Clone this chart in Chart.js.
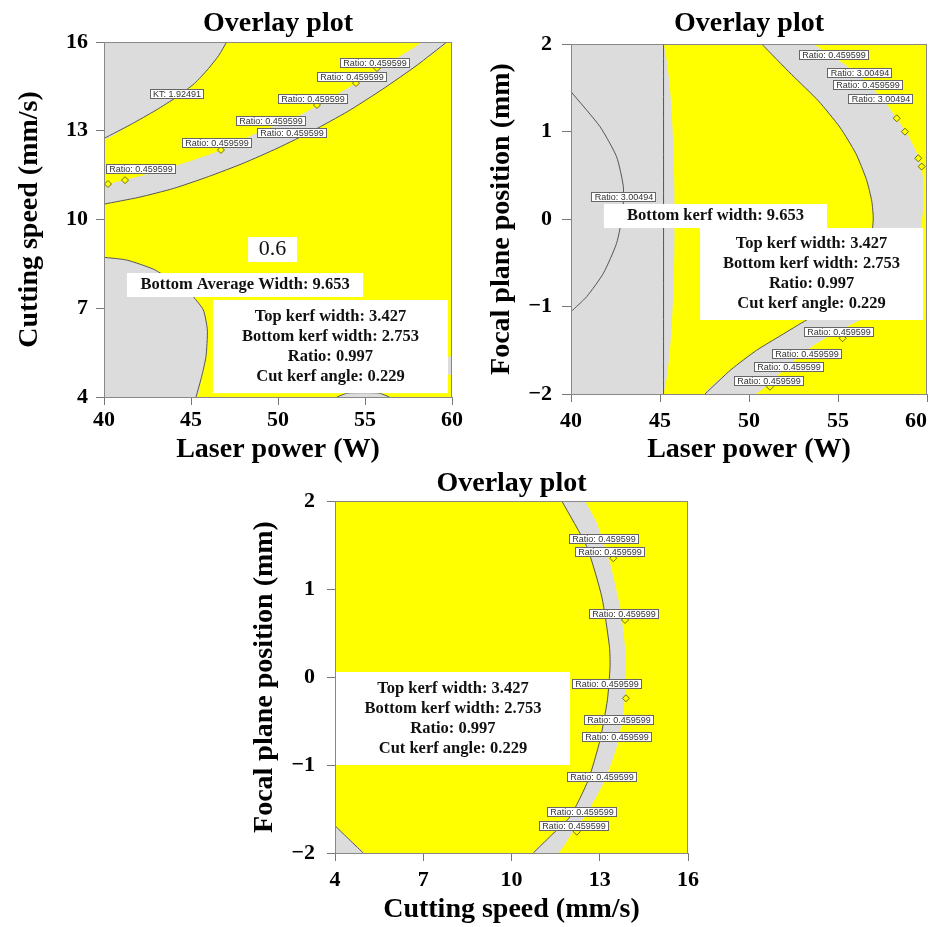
<!DOCTYPE html>
<html>
<head>
<meta charset="utf-8">
<script src="https://cdn.jsdelivr.net/npm/chart.js@4.4.1/dist/chart.umd.min.js"></script>
<style>
  body { margin: 0; background: #fff; width: 929px; height: 927px; position: relative; overflow: hidden; }
  canvas { position: absolute; }
</style>
</head>
<body>
<canvas id="c1" width="465" height="470" style="left:0;top:0"></canvas>
<canvas id="c2" width="464" height="470" style="left:465px;top:0"></canvas>
<canvas id="c3" width="460" height="467" style="left:240px;top:460px"></canvas>
<script>
// ticks
const powerTicks = [40, 45, 50, 55, 60];
const speedTicks = [4, 7, 10, 13, 16];
const focalTicks = [-2, -1, 0, 1, 2];

const summaryLines = ['Top kerf width: 3.427', 'Bottom kerf width: 2.753', 'Ratio: 0.997', 'Cut kerf angle: 0.229'];

// Panel 1: laser power (x) vs cutting speed (y)
const p1KtEdge = [[40, 12.74], [41.5, 13.2], [43, 13.7], [44.2, 14.15], [45.2, 14.6], [46.0, 15.1], [46.6, 15.55], [47.05, 16]];
const p1BandLow = [[40, 10.52], [42, 10.75], [44, 11.05], [46, 11.45], [48, 11.9], [50, 12.42], [52, 13.0], [54, 13.65], [56, 14.4], [58, 15.22], [59.7, 16]];
const p1BandHigh = [[40, 11.17], [42.26, 11.5], [44.56, 11.9], [46.48, 12.29], [48.5, 12.85], [51.26, 13.53], [54.14, 14.49], [56.63, 15.39], [57.59, 15.73], [58.35, 16]];
const p1LowEdge = [[40, 8.72], [41.3, 8.63], [42.84, 8.32], [43.9, 7.95], [44.6, 7.68], [45.13, 7.39], [45.71, 6.94], [45.94, 6.26], [45.86, 5.36], [45.61, 4.69], [45.29, 4.0]];
const p1BottomSliver = [[53.4, 4], [54.0, 4.13], [55.8, 4.13], [56.4, 4]];
const p1RightSliver = [[59.7, 5.32], [60, 5.4], [60, 4.75], [59.7, 4.78]];
const p1Marks = [[40.23, 11.2], [41.21, 11.33], [46.72, 12.35], [52.24, 13.87], [54.48, 14.61], [55.69, 15.12]];
const p1Tags = [
  [55.6, 15.29, 'Ratio: 0.459599'], [54.28, 14.83, 'Ratio: 0.459599'], [44.17, 14.24, 'KT: 1.92491'],
  [52.01, 14.07, 'Ratio: 0.459599'], [49.57, 13.33, 'Ratio: 0.459599'], [50.8, 12.91, 'Ratio: 0.459599'],
  [46.47, 12.59, 'Ratio: 0.459599'], [42.13, 11.71, 'Ratio: 0.459599'],
];

// Panel 2: laser power (x) vs focal plane position (y)
const p2LeftEdge = [[45.2, 2], [45.2, -2]];
const p2Arc = [[40, 1.455], [41.63, 1.055], [42.56, 0.712], [42.94, 0.369], [42.9, 0.065], [42.56, -0.278], [41.82, -0.62], [40.88, -0.888], [40, -1.06]];
const p2BandInner = [[50.71, 2], [52.4, 1.65], [53.9, 1.35], [55.1, 1.05], [56.0, 0.75], [56.6, 0.45], [56.9, 0.2], [56.98, 0.0], [56.85, -0.25], [56.4, -0.55], [55.6, -0.82], [54.5, -1.02], [53.24, -1.154], [51.8, -1.33], [50.43, -1.5], [49.0, -1.72], [47.53, -2]];
const p2BandOuter = [[50.34, -2], [51.8, -1.75], [53.24, -1.5], [54.8, -1.3], [56.24, -1.154], [57.6, -0.95], [58.8, -0.6], [59.5, -0.25], [59.76, 0.065], [59.8, 0.41], [59.6, 0.674], [58.86, 0.98], [57.55, 1.36], [56.5, 1.58], [55.3, 1.78], [53.6, 2]];
const p2Marks = [[58.3, 1.151], [58.76, 0.998], [59.51, 0.694], [59.7, 0.6], [55.26, -1.363], [51.18, -1.917]];
const p2Tags = [
  [54.75, 1.869, 'Ratio: 0.459599'], [56.24, 1.669, 'Ratio: 3.00494'], [56.71, 1.526, 'Ratio: 0.459599'],
  [57.42, 1.371, 'Ratio: 3.00494'], [55.06, -1.291, 'Ratio: 0.459599'], [53.26, -1.543, 'Ratio: 0.459599'],
  [52.25, -1.691, 'Ratio: 0.459599'], [51.12, -1.846, 'Ratio: 0.459599'], [43.0, 0.257, 'Ratio: 3.00494'],
];

// Panel 3: cutting speed (x) vs focal plane position (y)
const p3BandInner = [[11.71, 2], [12.56, 1.48], [13.07, 0.91], [13.33, 0.344], [13.35, 0.117], [13.26, -0.26], [13.01, -0.716], [12.61, -1.17], [11.99, -1.588], [11.35, -1.8], [10.74, -2]];
const p3BandOuter = [[11.58, -2], [12.0, -1.8], [12.56, -1.55], [13.18, -1.17], [13.58, -0.79], [13.8, -0.41], [13.89, -0.03], [13.86, 0.344], [13.69, 0.8], [13.35, 1.29], [12.9, 1.75], [12.5, 2]];
const p3CornerEdge = [[4, -1.69], [4.4, -1.82], [4.96, -2]];
const p3Marks = [[13.89, -0.242], [12.22, -1.758], [13.46, 1.349], [13.86, 0.648]];
const p3Tags = [
  [13.16, 1.568, 'Ratio: 0.459599'], [13.35, 1.42, 'Ratio: 0.459599'], [13.82, 0.716, 'Ratio: 0.459599'],
  [13.25, -0.085, 'Ratio: 0.459599'], [13.67, -0.483, 'Ratio: 0.459599'], [13.59, -0.682, 'Ratio: 0.459599'],
  [13.08, -1.136, 'Ratio: 0.459599'], [12.40, -1.534, 'Ratio: 0.459599'], [12.12, -1.688, 'Ratio: 0.459599'],
];

const YELLOW = '#ffff00';
const GRAY = '#dcdcdc';
const EDGE = '#555555';
const SERIF = '"Liberation Serif", "Times New Roman", serif';

const pts = arr => arr.map(([x, y]) => ({ x, y }));

const region = arr => ({
  data: pts(arr), fill: 'shape', backgroundColor: GRAY,
  borderColor: 'rgba(0,0,0,0)', borderWidth: 0, pointRadius: 0, tension: 0.2, order: 3,
});
const edge = arr => ({
  data: pts(arr), fill: false, borderColor: EDGE, borderWidth: 1, pointRadius: 0, tension: 0.2, order: 2,
});
const marks = arr => ({
  data: pts(arr), showLine: false, pointStyle: 'rectRot', pointRadius: 3.5,
  pointBackgroundColor: YELLOW, pointBorderColor: '#6e6e00', pointBorderWidth: 1, order: 1,
});

// yellow feasible background, tags, white text boxes, frame
const overlay = {
  id: 'overlay',
  beforeDatasetsDraw(chart) {
    const { ctx, chartArea: a } = chart;
    ctx.save();
    ctx.fillStyle = YELLOW;
    ctx.fillRect(a.left, a.top, a.width, a.height);
    ctx.restore();
  },
  afterDatasetsDraw(chart, args, opts) {
    const { ctx, chartArea: a, scales: { x, y } } = chart;
    ctx.save();
    ctx.font = '9px "Liberation Sans", Arial, sans-serif';
    ctx.textAlign = 'center';
    ctx.textBaseline = 'middle';
    (opts.tags || []).forEach(([vx, vy, text]) => {
      const px = Math.round(x.getPixelForValue(vx)), py = Math.round(y.getPixelForValue(vy));
      const w = Math.round(ctx.measureText(text).width + 6), h = 10;
      const l = px - Math.round(w / 2), t = py - 5;
      ctx.fillStyle = '#fff';
      ctx.fillRect(l, t, w, h);
      ctx.strokeStyle = '#666';
      ctx.lineWidth = 1;
      ctx.strokeRect(l + 0.5, t + 0.5, w - 1, h - 1);
      ctx.fillStyle = '#333';
      ctx.fillText(text, px, py + 0.5);
    });
    (opts.boxes || []).forEach(b => {
      const l = x.getPixelForValue(b.x[0]), r = x.getPixelForValue(b.x[1]);
      const t = y.getPixelForValue(b.y[1]), btm = y.getPixelForValue(b.y[0]);
      ctx.fillStyle = '#fff';
      ctx.fillRect(l, t, r - l, btm - t);
      ctx.fillStyle = '#111';
      ctx.font = b.font;
      const cx = (l + r) / 2, cy = (t + btm) / 2;
      b.lines.forEach((s, i) => ctx.fillText(s, cx, cy + (i - (b.lines.length - 1) / 2) * 20));
    });
    ctx.strokeStyle = '#888';
    ctx.lineWidth = 1;
    ctx.strokeRect(Math.round(a.left) + 0.5, Math.round(a.top) + 0.5, Math.round(a.width) - 1, Math.round(a.height));
    ctx.restore();
  },
};

const fmt = v => (v < 0 ? '\u2212' + Math.abs(v) : String(v));

function axis(ticks, title, o) {
  return {
    type: 'linear',
    min: ticks[0],
    max: ticks[ticks.length - 1],
    ticks: {
      stepSize: ticks[1] - ticks[0], color: '#000', padding: o.pad, maxRotation: 0, autoSkip: false,
      font: { family: SERIF, size: 22, weight: 'bold' },
      // last label of the right-hand panel sits inside the page edge
      callback: (v, i, arr) => fmt(v) + (o.pullLast && i === arr.length - 1 ? '\u2002\u2002' : ''),
    },
    grid: { drawOnChartArea: false, drawTicks: true, tickLength: o.tick, color: '#777' },
    border: { display: true, color: '#888' },
    title: { display: true, text: title, color: '#000', font: { family: SERIF, size: 28, weight: 'bold' }, padding: o.titlePad },
    afterFit(s) {
      if (s.isHorizontal()) s.height = o.size; else s.width = o.size;
      s.paddingLeft = s.paddingRight = s.paddingTop = s.paddingBottom = 0;
    },
  };
}

function makeChart(id, datasets, xs, ys, titlePad, padding, overlayOpts) {
  return new Chart(document.getElementById(id), {
    type: 'line',
    data: { datasets },
    plugins: [overlay],
    options: {
      responsive: false,
      animation: false,
      events: [],
      layout: { padding, autoPadding: false },
      scales: { x: xs, y: ys },
      plugins: {
        legend: { display: false },
        tooltip: { enabled: false },
        title: {
          display: true, text: 'Overlay plot', fullSize: false, color: '#000',
          font: { family: SERIF, size: 28, weight: 'bold' }, padding: titlePad,
        },
        overlay: overlayOpts,
      },
    },
  });
}

makeChart('c1',
  [
    region([[40, 16], ...p1KtEdge]),
    region([...p1BandLow, ...p1BandHigh.slice().reverse()]),
    region([...p1LowEdge, [40, 4]]),
    region(p1BottomSliver),
    region(p1RightSliver),
    edge(p1KtEdge), edge(p1BandLow), edge(p1LowEdge), edge(p1BottomSliver),
    marks(p1Marks),
  ],
  axis(powerTicks, 'Laser power (W)', { pad: 2, tick: 8, size: 73, titlePad: { top: 0, bottom: 3 } }),
  axis(speedTicks, 'Cutting speed (mm/s)', { pad: 8, tick: 8, size: 104, titlePad: { top: 13, bottom: 0 } }),
  { top: 7, bottom: 1.4 },
  { left: 0, right: 13, top: 0, bottom: 0 },
  {
    tags: p1Tags,
    boxes: [
      { x: [48.28, 51.09], y: [8.56, 9.41], lines: ['0.6'], font: '22px ' + SERIF },
      { x: [41.32, 54.89], y: [7.38, 8.19], lines: ['Bottom Average Width: 9.653'], font: 'bold 16.5px ' + SERIF },
      { x: [46.26, 59.77], y: [4.13, 7.28], lines: summaryLines, font: 'bold 16.5px ' + SERIF },
    ],
  }
);

makeChart('c2',
  [
    region([[40, 2], ...p2LeftEdge, [40, -2]]),
    region([...p2BandInner, ...p2BandOuter]),
    edge(p2LeftEdge), edge(p2Arc), edge(p2BandInner),
    marks(p2Marks),
  ],
  axis(powerTicks, 'Laser power (W)', { pad: 6, tick: 8, size: 76, titlePad: { top: 0, bottom: 3 }, pullLast: true }),
  axis(focalTicks, 'Focal plane position (mm)', { pad: 10, tick: 9, size: 106, titlePad: { top: 20, bottom: 0 } }),
  { top: 7, bottom: 3.4 },
  { left: 0, right: 2, top: 0, bottom: 0 },
  {
    tags: p2Tags,
    boxes: [
      { x: [41.85, 54.38], y: [-0.103, 0.171], lines: ['Bottom kerf width: 9.653'], font: 'bold 16.5px ' + SERIF },
      { x: [47.25, 59.78], y: [-1.154, -0.103], lines: summaryLines, font: 'bold 16.5px ' + SERIF },
    ],
  }
);

makeChart('c3',
  [
    region([...p3BandInner, ...p3BandOuter]),
    region([...p3CornerEdge, [4, -2]]),
    edge(p3BandInner), edge(p3CornerEdge),
    marks(p3Marks),
  ],
  axis(speedTicks, 'Cutting speed (mm/s)', { pad: 6, tick: 8, size: 74, titlePad: { top: 0, bottom: 0 } }),
  axis(focalTicks, 'Focal plane position (mm)', { pad: 12, tick: 8, size: 95, titlePad: { top: 8, bottom: 0 } }),
  { top: 7, bottom: 0.4 },
  { left: 0, right: 12, top: 0, bottom: 0 },
  {
    tags: p3Tags,
    boxes: [
      { x: [4.03, 11.99], y: [-1.0, 0.057], lines: summaryLines, font: 'bold 16.5px ' + SERIF },
    ],
  }
);
</script>
</body>
</html>
